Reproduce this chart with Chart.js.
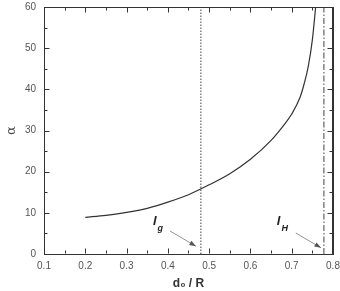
<!DOCTYPE html>
<html>
<head>
<meta charset="utf-8">
<script src="https://cdn.jsdelivr.net/npm/chart.js@4.4.1/dist/chart.umd.min.js"></script>
<style>
  html, body { margin: 0; padding: 0; background: #fff; }
  #wrap { width: 340px; height: 291px; }
</style>
</head>
<body>
<div id="wrap"><canvas id="myChart"></canvas></div>
<script>
// 曲線數據 (d0/R, alpha)
var ratioValues = [0.2, 0.25, 0.3, 0.35, 0.4, 0.45, 0.5, 0.55, 0.6, 0.65, 0.68, 0.7, 0.72, 0.73, 0.74, 0.75, 0.758];
var alphaValues = [8.9, 9.4, 10.1, 11.1, 12.6, 14.4, 16.8, 19.5, 23.0, 27.6, 31.2, 34.0, 38.0, 41.3, 45.5, 52.0, 60];

// 垂直參考線
var lgPosition = 0.48;
var lhPosition = 0.778;

var xTicks = [0.1, 0.2, 0.3, 0.4, 0.5, 0.6, 0.7, 0.8];
var yTicks = [0, 10, 20, 30, 40, 50, 60];

var curveData = ratioValues.map(function (v, i) { return { x: v, y: alphaValues[i] }; });

var fontFamily = '"Liberation Sans", Arial, sans-serif';

// 內側刻度、外框、標註
var framePlugin = {
    id: 'frame',
    afterDraw: function (chart) {
        var c = chart.ctx;
        var a = chart.chartArea;
        var xs = chart.scales.x, ys = chart.scales.y;
        var L = Math.round(a.left) + 0.5, R = Math.round(a.right) - 0.5;
        var T = Math.round(a.top) + 0.5, B = Math.round(a.bottom) - 0.5;
        c.save();
        c.setLineDash([]);
        c.lineWidth = 1;
        c.strokeStyle = '#333';
        var seg = function (x1, y1, x2, y2) {
            c.beginPath();
            c.moveTo(x1, y1);
            c.lineTo(x2, y2);
            c.stroke();
        };
        c.fillStyle = '#333';
        c.fillRect(Math.round(a.left), Math.round(a.top), Math.round(a.right - a.left), 1);
        c.fillRect(Math.round(a.right) - 1, Math.round(a.top), 1, Math.round(a.bottom - a.top));

        xTicks.forEach(function (t) {
            [0, 0.05].forEach(function (off, k) {
                var v = t + off;
                if (v > 0.8 + 1e-6) return;
                var px = Math.round(xs.getPixelForValue(v)) + 0.5;
                var len = k === 0 ? 5 : 3;
                seg(px, B, px, B - len);
                seg(px, T, px, T + len);
            });
        });
        yTicks.forEach(function (t) {
            [0, 5].forEach(function (off, k) {
                var v = t + off;
                if (v > 60) return;
                var py = Math.round(ys.getPixelForValue(v)) + 0.5;
                var len = k === 0 ? 5 : 3;
                seg(L, py, L + len, py);
                seg(R, py, R - len, py);
            });
        });

        // 標註 l_g, l_H
        var label = function (main, sub, x, y) {
            var lx = xs.getPixelForValue(x), ly = ys.getPixelForValue(y);
            c.fillStyle = '#222';
            c.textBaseline = 'middle';
            c.textAlign = 'left';
            c.font = 'italic bold 13px ' + fontFamily;
            c.fillText(main, lx, ly);
            var tw = c.measureText(main).width;
            c.font = 'italic bold 9px ' + fontFamily;
            c.fillText(sub, lx + tw + 1, ly + 7);
        };
        var arrow = function (x1, y1, x2, y2) {
            var p1x = xs.getPixelForValue(x1), p1y = ys.getPixelForValue(y1);
            var p2x = xs.getPixelForValue(x2), p2y = ys.getPixelForValue(y2);
            c.strokeStyle = '#777';
            c.fillStyle = '#555';
            c.lineWidth = 0.8;
            seg(p1x, p1y, p2x, p2y);
            var ang = Math.atan2(p2y - p1y, p2x - p1x);
            c.beginPath();
            c.moveTo(p2x, p2y);
            c.lineTo(p2x - 7 * Math.cos(ang - 0.35), p2y - 7 * Math.sin(ang - 0.35));
            c.lineTo(p2x - 7 * Math.cos(ang + 0.35), p2y - 7 * Math.sin(ang + 0.35));
            c.closePath();
            c.fill();
        };
        label('l', 'g', 0.364, 7.8);
        arrow(0.405, 5.6, 0.468, 1.9);
        label('l', 'H', 0.664, 7.8);
        arrow(0.71, 5.1, 0.771, 1.5);
        c.restore();
    }
};

// 上方與右方的空軸，只用來畫外框
function frameAxis(pos, horizontal) {
    return {
        type: 'linear',
        position: pos,
        display: true,
        min: horizontal ? 0.1 : 0,
        max: horizontal ? 0.8 : 60,
        grid: { display: false, drawTicks: false },
        border: { display: true, color: '#333', width: 1 },
        ticks: { display: false },
        afterFit: function (scale) {
            if (horizontal) { scale.height = 1; } else { scale.width = 1; }
            scale.paddingLeft = 0; scale.paddingRight = 0;
            scale.paddingTop = 0; scale.paddingBottom = 0;
        }
    };
}

var myChart = new Chart(document.getElementById('myChart'), {
    type: 'line',
    data: {
        datasets: [
            {
                data: curveData,
                borderColor: '#333',
                borderWidth: 1.2,
                pointRadius: 0,
                fill: false,
                cubicInterpolationMode: 'monotone'
            },
            {
                data: [{ x: lgPosition, y: 0 }, { x: lgPosition, y: 60 }],
                borderColor: '#444',
                borderWidth: 1,
                borderDash: [1.5, 1.5],
                pointRadius: 0,
                fill: false
            },
            {
                data: [{ x: lhPosition, y: 0 }, { x: lhPosition, y: 60 }],
                borderColor: '#444',
                borderWidth: 1,
                borderDash: [6, 2, 1.5, 2],
                pointRadius: 0,
                fill: false
            }
        ]
    },
    options: {
        responsive: true,
        maintainAspectRatio: false,
        animation: false,
        layout: { padding: { left: 0, right: 6, top: 6, bottom: 0 } },
        scales: {
            x: {
                type: 'linear',
                min: 0.1,
                max: 0.8,
                afterBuildTicks: function (scale) {
                    scale.ticks = xTicks.map(function (v) { return { value: v }; });
                },
                afterFit: function (scale) {
                    scale.height = 37;
                    scale.paddingLeft = 0; scale.paddingRight = 0;
                },
                grid: { display: false, drawTicks: false },
                border: { display: true, color: '#333', width: 1 },
                ticks: {
                    padding: 6,
                    color: '#555',
                    font: { family: fontFamily, size: 10 },
                    callback: function (v) { return v.toFixed(1); }
                },
                title: {
                    display: true,
                    text: 'd₀ / R',
                    color: '#333',
                    padding: { top: 0, bottom: 0 },
                    font: { family: fontFamily, size: 12, weight: 'bold' }
                }
            },
            y: {
                min: 0,
                max: 60,
                afterBuildTicks: function (scale) {
                    scale.ticks = yTicks.map(function (v) { return { value: v }; });
                },
                afterFit: function (scale) {
                    scale.width = 44;
                    scale.paddingTop = 0; scale.paddingBottom = 0;
                },
                grid: { display: false, drawTicks: false },
                border: { display: true, color: '#333', width: 1 },
                ticks: {
                    padding: 8,
                    color: '#555',
                    font: { family: fontFamily, size: 10 }
                },
                title: {
                    display: true,
                    text: 'α',
                    color: '#444',
                    padding: { top: 4, bottom: 0 },
                    font: { family: '"DejaVu Serif", serif', size: 13 }
                }
            },
            xTop: frameAxis('top', true),
            yRight: frameAxis('right', false)
        },
        plugins: {
            legend: { display: false },
            tooltip: { enabled: false }
        }
    },
    plugins: [framePlugin]
});
</script>
</body>
</html>
